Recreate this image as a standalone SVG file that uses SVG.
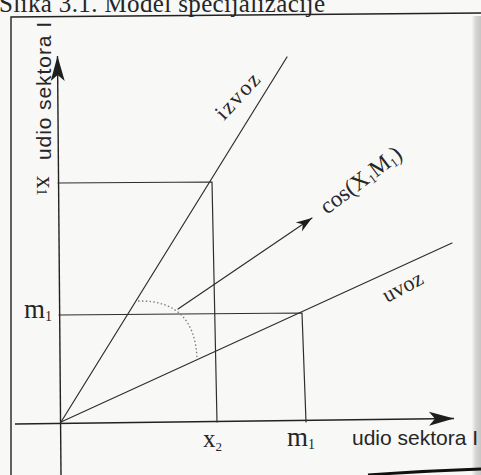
<svg xmlns="http://www.w3.org/2000/svg" width="481" height="475" viewBox="0 0 481 475">
<defs>
<style>
.ln{stroke:#2e2e2e;stroke-width:1.2;fill:none;stroke-linecap:round}
.ax{stroke:#222;stroke-width:1.4;fill:none}
.sans{font-family:"Liberation Sans","DejaVu Sans",sans-serif;fill:#262626}
.serif{font-family:"Liberation Serif","DejaVu Serif",serif;fill:#262626}
.dot{stroke:#7a7a7a;stroke-width:1.3;fill:none;stroke-dasharray:1.5 2.3}
.head{fill:#1e1e1e}
</style>
<linearGradient id="edge" x1="0" x2="1" y1="0" y2="0">
<stop offset="0" stop-color="#f4f4f2"/>
<stop offset="0.45" stop-color="#d4d4d2"/>
<stop offset="1" stop-color="#c6c6c4"/>
</linearGradient>
<marker id="big" viewBox="-26 -8 27 16" refX="0" refY="0" markerWidth="27" markerHeight="16" markerUnits="userSpaceOnUse" orient="auto">
<path class="head" d="M0,0 L-25,-7 L-19,0 L-25,7 Z"/>
</marker>
<marker id="small" viewBox="-17 -6 18 12" refX="0" refY="0" markerWidth="18" markerHeight="12" markerUnits="userSpaceOnUse" orient="auto">
<path class="head" d="M0,0 L-16,-5.5 L-11,0 L-16,5.5 Z"/>
</marker>
</defs>
<rect width="481" height="475" fill="#f8f8f6"/>
<rect x="472" y="16" width="9" height="459" fill="url(#edge)"/>

<g id="title">
<text class="serif" x="-1" y="12" font-size="25" textLength="326" lengthAdjust="spacing">Slika 3.1. Model specijalizacije</text>
</g>

<g id="frame">
<path class="ax" d="M11,475 L11,17 L481,13"/>
<path d="M368,475 Q420,471 481,469" stroke="#111" stroke-width="3" fill="none"/>
</g>

<g id="connectors">
<path class="ax" d="M61,475 L57.5,56" marker-end="url(#big)"/>
<path class="ax" d="M15,424 L454,418.5" marker-end="url(#big)"/>
<path class="ln" d="M58,183 L212,182 L217,422"/>
<path class="ln" d="M59,315 L302,313 L306,422"/>
<path class="ln" d="M61,422 L287,57"/>
<path class="ln" d="M61,422 L452,243"/>
<path class="ln" d="M178,309 L312,218" marker-end="url(#small)"/>
<path class="dot" d="M138,301 Q195,300 197,359"/>
</g>

<g id="label-y-axis">
<text class="sans" font-size="21" transform="translate(51,160) rotate(-90)" textLength="138" lengthAdjust="spacing">udio sektora I</text>
</g>
<g id="label-x-axis">
<text class="sans" font-size="21" x="352" y="445" textLength="126" lengthAdjust="spacing">udio sektora I</text>
</g>
<g id="label-x1">
<text class="serif" font-size="25" transform="translate(37,176) rotate(90)">x<tspan font-size="14">1</tspan></text>
</g>
<g id="label-m1-left">
<text class="serif" font-size="27" x="24" y="318">m<tspan font-size="14" dy="3">1</tspan></text>
</g>
<g id="label-x2">
<text class="serif" font-size="25" x="203" y="447">x<tspan font-size="13" dy="4">2</tspan></text>
</g>
<g id="label-m1-bottom">
<text class="serif" font-size="27" x="287" y="446">m<tspan font-size="14" dy="3">1</tspan></text>
</g>
<g id="label-izvoz">
<text class="serif" font-size="22" transform="translate(224,121) rotate(-47)" textLength="55" lengthAdjust="spacing">izvoz</text>
</g>
<g id="label-uvoz">
<text class="serif" font-size="22" transform="translate(387,303) rotate(-28)">uvoz</text>
</g>
<g id="label-cos">
<text class="serif" font-size="23" transform="translate(327,215) rotate(-37)">cos(X<tspan font-size="13" dy="3">1</tspan><tspan dy="-3">M</tspan><tspan font-size="13" dy="3">1</tspan><tspan dy="-3">)</tspan></text>
</g>
</svg>
